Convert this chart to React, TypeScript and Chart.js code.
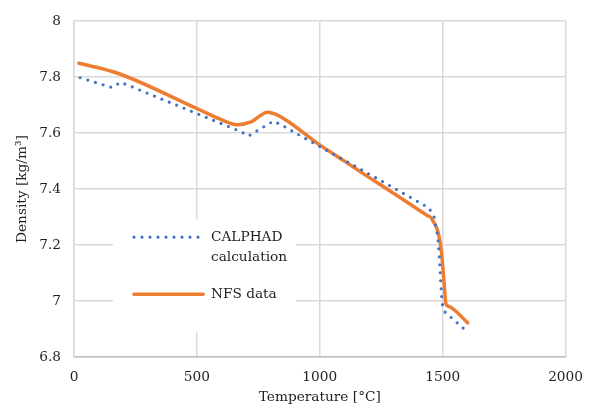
import React, { useEffect, useRef } from "react";
import { Chart, registerables } from "chart.js";

Chart.register(...registerables);

const calphadT = [25, 155, 190, 680, 710, 811, 843, 957, 1160, 1444, 1465, 1480, 1487, 1492, 1498, 1510, 1600];
const calphadD = [7.798, 7.763, 7.782, 7.605, 7.59, 7.643, 7.63, 7.573, 7.474, 7.333, 7.3, 7.23, 7.15, 7.07, 6.99, 6.96, 6.89];

const nfsT = [20, 175, 500, 600, 665, 720, 787, 836, 998, 1100, 1200, 1300, 1400, 1440, 1454, 1493, 1508, 1513, 1525, 1602];
const nfsD = [7.85, 7.815, 7.688, 7.648, 7.63, 7.64, 7.675, 7.661, 7.559, 7.5, 7.442, 7.385, 7.327, 7.304, 7.296, 7.19, 7.04, 6.99, 6.981, 6.922];

const xTicks = [0, 500, 1000, 1500, 2000];
const yTicks = [6.8, 7, 7.2, 7.4, 7.6, 7.8, 8];

const seriesLabels = ["CALPHAD calculation", "NFS data"];
const FONT = "'DejaVu Serif', serif";
const TEXT = "#1f1f1f";
const FS = 13.7;

const legendPlugin = {
  id: "insideLegend",
  afterDraw(chart: any) {
    const { ctx, chartArea } = chart;
    const bx = chartArea.left + 39;
    const by = chartArea.top + 198;
    ctx.save();
    ctx.fillStyle = "#ffffff";
    ctx.fillRect(bx, by, 183, 113);
    const ds = chart.data.datasets;
    const lx0 = bx + 21;
    const lx1 = bx + 90;
    const tx = bx + 98;
    ctx.strokeStyle = ds[0].borderColor;
    ctx.lineWidth = ds[0].borderWidth;
    ctx.lineCap = "round";
    ctx.setLineDash([0, 8]);
    ctx.beginPath();
    ctx.moveTo(lx0, by + 18);
    ctx.lineTo(lx1, by + 18);
    ctx.stroke();
    ctx.setLineDash([]);
    ctx.fillStyle = TEXT;
    ctx.font = FS + "px " + FONT;
    ctx.textBaseline = "middle";
    ctx.textAlign = "left";
    const words = String(ds[0].label).split(" ");
    ctx.fillText(words[0], tx, by + 18);
    ctx.fillText(words.slice(1).join(" "), tx, by + 38);
    ctx.strokeStyle = ds[1].borderColor;
    ctx.lineWidth = ds[1].borderWidth;
    ctx.lineCap = "round";
    ctx.beginPath();
    ctx.moveTo(lx0, by + 75);
    ctx.lineTo(lx1, by + 75);
    ctx.stroke();
    ctx.fillText(String(ds[1].label), tx, by + 75);
    ctx.restore();
  },
};

export default function App() {
  const ref = useRef<HTMLCanvasElement>(null);
  useEffect(() => {
    if (!ref.current) return;
    const chart = new Chart(ref.current, {
      type: "line",
      data: {
        datasets: [
          {
            label: seriesLabels[0],
            data: calphadT.map((t, i) => ({ x: t, y: calphadD[i] })),
            borderColor: "#4472C4",
            borderWidth: 3.2,
            borderDash: [0, 8],
            borderCapStyle: "round",
            pointRadius: 0,
            tension: 0,
            fill: false,
          },
          {
            label: seriesLabels[1],
            data: nfsT.map((t, i) => ({ x: t, y: nfsD[i] })),
            borderColor: "#ED7D31",
            borderWidth: 3.5,
            borderCapStyle: "round",
            borderJoinStyle: "round",
            pointRadius: 0,
            cubicInterpolationMode: "monotone",
            fill: false,
          },
        ],
      },
      options: {
        animation: false,
        responsive: true,
        maintainAspectRatio: false,
        layout: { padding: { left: 10, top: 17, right: 28, bottom: 0 } },
        plugins: { legend: { display: false }, tooltip: { enabled: false } },
        scales: {
          x: {
            type: "linear",
            min: 0,
            max: 2000,
            afterBuildTicks: (s: any) => {
              s.ticks = xTicks.map((v) => ({ value: v }));
            },
            afterFit: (s: any) => {
              s.height = 53;
            },
            ticks: {
              padding: 12,
              color: TEXT,
              font: { family: FONT, size: FS },
              callback: (v: any) => String(v),
            },
            grid: { color: "#d9d9d9", lineWidth: 1.5, drawTicks: false },
            border: { color: "#bfbfbf", width: 1.5 },
            title: { display: true, text: "Temperature [°C]", color: TEXT, font: { family: FONT, size: FS } },
          },
          y: {
            min: 6.8,
            max: 8,
            afterBuildTicks: (s: any) => {
              s.ticks = yTicks.map((v) => ({ value: v }));
            },
            afterFit: (s: any) => {
              s.width = 64;
            },
            ticks: {
              padding: 13,
              color: TEXT,
              font: { family: FONT, size: FS },
              callback: (v: any) => String(Number(Number(v).toFixed(1))),
            },
            grid: { color: "#d9d9d9", lineWidth: 1.5, drawTicks: false },
            border: { color: "#d9d9d9", width: 1.5 },
            title: { display: true, text: "Density [kg/m³]", color: TEXT, font: { family: FONT, size: FS } },
          },
        },
      },
      plugins: [legendPlugin],
    } as any);
    return () => chart.destroy();
  }, []);
  return (
    <div style={{ position: "fixed", left: 0, top: 0, width: 595, height: 410, background: "#fff" }}>
      <canvas ref={ref} />
    </div>
  );
}
